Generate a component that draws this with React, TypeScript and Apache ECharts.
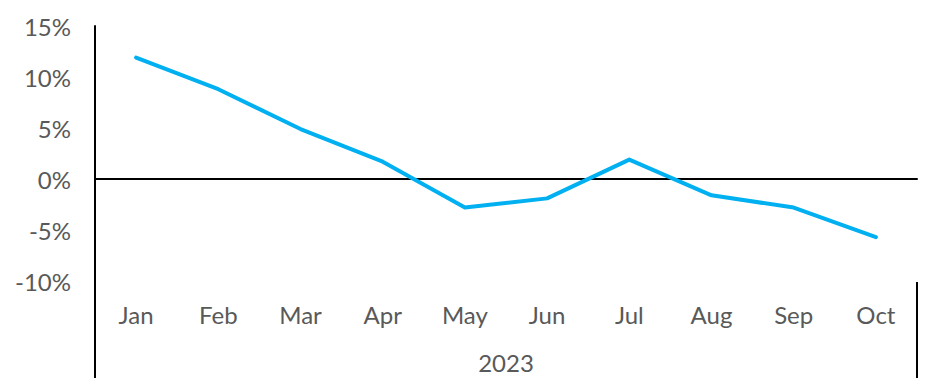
import React, { useEffect, useRef } from "react";
import * as echarts from "echarts";

const categories = ["Jan", "Feb", "Mar", "Apr", "May", "Jun", "Jul", "Aug", "Sep", "Oct"];
const values = [11.9, 8.8, 4.9, 1.7, -2.8, -1.9, 1.9, -1.6, -2.8, -5.7];
const groupLabel = "2023";
const yMin = -10;
const yMax = 15;
const yInterval = 5;

export default function App() {
  const ref = useRef<HTMLDivElement>(null);
  useEffect(() => {
    if (!ref.current) return;
    const chart = echarts.init(ref.current, undefined, { renderer: "svg" });
    const font = "Lato, 'Noto Sans', sans-serif";
    const gray = "#595959";
    const fs = 24;
    chart.setOption({
      animation: false,
      grid: { left: 95, right: 23, top: 26, bottom: 107, containLabel: false },
      xAxis: [
        {
          type: "category",
          data: categories,
          boundaryGap: true,
          axisLine: { show: false, onZero: false },
          axisTick: { show: false },
          axisLabel: { color: gray, fontFamily: font, fontSize: fs, margin: 21 },
          name: groupLabel,
          nameLocation: "middle",
          nameGap: 69,
          nameTextStyle: { color: gray, fontFamily: font, fontSize: fs },
        },
        {
          type: "category",
          data: categories,
          boundaryGap: true,
          position: "bottom",
          axisLine: { show: true, onZero: true, lineStyle: { color: "#000", width: 2 } },
          axisTick: { show: false },
          axisLabel: { show: false },
        },
      ],
      yAxis: {
        type: "value",
        min: yMin,
        max: yMax,
        interval: yInterval,
        axisLine: { show: true, lineStyle: { color: "#000", width: 2 } },
        axisTick: { show: false },
        splitLine: { show: false },
        axisLabel: {
          color: gray,
          fontFamily: font,
          fontSize: fs,
          margin: 24,
          formatter: (v: number) => `${v}%`,
        },
      },
      graphic: [
        {
          type: "line",
          shape: { x1: 95, y1: 281, x2: 95, y2: 378 },
          style: { stroke: "#000", lineWidth: 2 },
        },
        {
          type: "line",
          shape: { x1: 917, y1: 282, x2: 917, y2: 378 },
          style: { stroke: "#000", lineWidth: 2 },
        },
      ],
      series: [
        {
          type: "line",
          data: values,
          xAxisIndex: 0,
          showSymbol: false,
          symbol: "none",
          lineStyle: { color: "#00B0F0", width: 4, cap: "round", join: "round" },
          itemStyle: { color: "#00B0F0" },
        },
      ],
    });
    return () => chart.dispose();
  }, []);
  return (
    <div
      ref={ref}
      style={{ position: "absolute", left: 0, top: 0, width: 940, height: 388, background: "#fff" }}
    />
  );
}
